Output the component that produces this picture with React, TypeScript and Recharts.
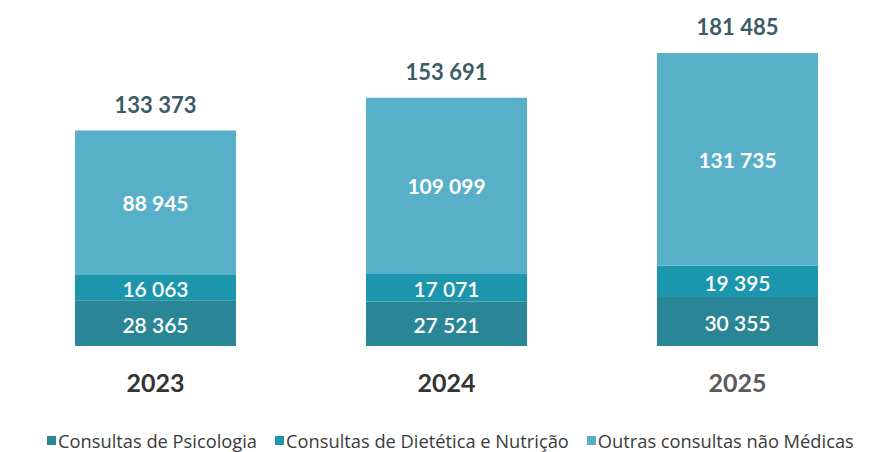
import React from "react";
import { BarChart, Bar, XAxis, YAxis, LabelList } from "recharts";

const years = ["2023", "2024", "2025"];
const psicologia = [28365, 27521, 30355];
const dietetica = [16063, 17071, 19395];
const outras = [88945, 109099, 131735];
const totals = [133373, 153691, 181485];
const seriesNames = [
  "Consultas de Psicologia",
  "Consultas de Dietética e Nutrição",
  "Outras consultas não Médicas",
];
const colors = ["#2a8696", "#1b96ad", "#58b0c8"];
const yearColors = ["#333333", "#333333", "#5a5a5a"];

const data = years.map((y, i) => ({
  year: y,
  psicologia: psicologia[i],
  dietetica: dietetica[i],
  outras: outras[i],
  total: totals[i],
}));

const fmt = (v: any) => {
  const n = Number(v);
  return n.toLocaleString("en-US").replace(/,/g, " ");
};

const FONT = "Lato, 'Open Sans', sans-serif";

const YearTick = (props: any) => {
  const { x, y, payload, index } = props;
  return (
    <text
      x={x}
      y={y + 38}
      textAnchor="middle"
      fontFamily={FONT}
      fontWeight={700}
      fontSize={25}
      fill={yearColors[index] || "#333"}
    >
      {payload.value}
    </text>
  );
};

const TotalLabel = (props: any) => {
  const { x, y, width, index } = props;
  return (
    <text
      x={x + width / 2}
      y={y - 18}
      textAnchor="middle"
      fontFamily={FONT}
      fontWeight={700}
      fontSize={22}
      fill="#3b5b66"
    >
      {fmt(totals[index])}
    </text>
  );
};

const innerLabel = (bold: boolean, dyOff: number) => (props: any) => {
  const { x, y, width, height, value } = props;
  return (
    <text
      x={x + width / 2}
      y={y + height / 2 + dyOff}
      textAnchor="middle"
      dominantBaseline="central"
      fontFamily={FONT}
      fontWeight={bold ? 700 : 600}
      fontSize={21}
      fill="#ffffff"
    >
      {fmt(value)}
    </text>
  );
};

export default function App() {
  return (
    <div
      style={{
        position: "absolute",
        left: 0,
        top: 0,
        width: 873,
        height: 452,
        overflow: "hidden",
        background: "#ffffff",
      }}
    >
      <BarChart
        width={883}
        height={452}
        data={data}
        margin={{ top: 23, right: 0, bottom: 56, left: 10 }}
        barCategoryGap={0}
      >
        <XAxis
          dataKey="year"
          axisLine={false}
          tickLine={false}
          height={50}
          tick={<YearTick />}
          interval={0}
        />
        <YAxis hide domain={[0, 200000]} />
        <Bar dataKey="psicologia" stackId="a" fill={colors[0]} barSize={161} isAnimationActive={false}>
          <LabelList dataKey="psicologia" content={innerLabel(false, 1)} />
        </Bar>
        <Bar dataKey="dietetica" stackId="a" fill={colors[1]} barSize={161} isAnimationActive={false}>
          <LabelList dataKey="dietetica" content={innerLabel(false, 1)} />
        </Bar>
        <Bar dataKey="outras" stackId="a" fill={colors[2]} barSize={161} isAnimationActive={false}>
          <LabelList dataKey="outras" content={innerLabel(true, 0)} />
          <LabelList dataKey="total" content={<TotalLabel />} />
        </Bar>
      </BarChart>
      <div
        style={{
          position: "absolute",
          left: 47,
          top: 428,
          display: "flex",
          alignItems: "center",
          fontFamily: "'Open Sans', sans-serif",
          fontSize: 18.3,
          color: "#3a3a3a",
          whiteSpace: "nowrap",
        }}
      >
        {seriesNames.map((n, i) => (
          <div
            key={n}
            style={{ display: "flex", alignItems: "center", marginRight: i < 2 ? 18 : 0 }}
          >
            <span
              style={{
                display: "inline-block",
                width: 9,
                height: 9,
                background: colors[i],
                marginRight: 2,
              }}
            />
            <span>{n}</span>
          </div>
        ))}
      </div>
    </div>
  );
}
